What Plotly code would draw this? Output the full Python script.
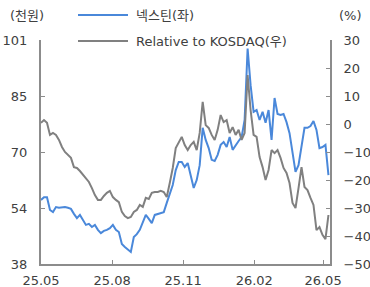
import pandas as pd
import plotly.graph_objects as go

# ---- data ----
nextin = [56.0, 56.8, 56.8, 53.2, 52.6, 54.0, 53.8, 54.0, 54.0, 53.8,
          53.5, 52.1, 50.9, 51.8, 50.4, 49.0, 49.3, 48.4, 49.0, 47.6,
          46.7, 47.3, 47.6, 48.1, 49.0, 47.6, 47.0, 43.6, 42.8, 42.2,
          41.4, 45.6, 46.4, 47.6, 49.8, 51.8, 50.7, 49.5, 51.8, 52.1,
          52.3, 52.6, 55.2, 58.0, 60.2, 64.4, 66.7, 66.7, 65.3, 66.4,
          62.5, 59.4, 61.6, 65.8, 76.3, 72.9, 70.6, 67.3, 67.0, 68.7,
          71.5, 72.3, 70.9, 73.7, 70.1, 71.5, 72.6, 73.7, 78.5, 98.6,
          88.3, 80.8, 81.3, 78.5, 80.8, 77.7, 81.3, 72.9, 84.7, 80.2,
          79.9, 80.2, 77.9, 74.8, 69.2, 63.9, 65.8, 70.6, 76.3, 76.3,
          76.8, 78.2, 75.7, 70.6, 70.9, 71.5, 63.0]

relative = [0.4, 1.4, 0.4, -3.9, -3.2, -3.9, -5.7, -8.2, -10.0, -11.1,
            -12.1, -15.4, -15.7, -16.8, -18.2, -19.6, -20.7, -22.9, -25.4, -27.1,
            -27.1, -25.7, -24.6, -23.9, -26.1, -27.1, -27.9, -31.4, -32.9, -33.6,
            -33.2, -31.4, -30.7, -28.9, -29.6, -26.4, -26.8, -24.6, -24.3, -24.3,
            -23.9, -24.3, -26.1, -21.1, -15.7, -8.6, -6.8, -4.6, -7.5, -9.3,
            -7.5, -6.4, -9.3, -3.2, 7.9, -0.4, -1.4, -3.9, -5.7, -2.1,
            3.2, 0.7, 1.4, -3.2, -1.1, -3.9, -2.1, -5.7, -3.2, 17.5,
            5.0, -3.9, -4.6, -11.8, -15.4, -20.0, -16.4, -9.3, -10.4, -9.3,
            -12.1, -15.7, -17.5, -21.1, -28.2, -30.0, -22.9, -15.4, -22.5, -23.6,
            -26.4, -28.9, -37.9, -36.8, -39.6, -41.1, -32.5]

dates = pd.date_range("2025-05-12", "2026-05-19", periods=len(nextin))

x_tickvals = ["2025-05-12", "2025-08-12", "2025-11-12", "2026-02-12", "2026-05-12"]
x_ticktext = ["25.05", "25.08", "25.11", "26.02", "26.05"]
y1_tickvals = [38, 53.75, 69.5, 85.25, 101]
y1_ticktext = ["38", "54", "70", "85", "101"]
y2_tickvals = [30, 20, 10, 0, -10, -20, -30, -40, -50]

BLUE = "#4a88da"
GREY = "#808080"
AXIS = "#8c8c8c"
TXT = "#404040"
FONT = "DejaVu Sans, Noto Sans CJK KR"

fig = go.Figure()
fig.add_trace(go.Scatter(x=dates, y=relative, mode="lines", yaxis="y2",
                         line=dict(color=GREY, width=2), name="Relative to KOSDAQ(우)",
                         showlegend=False))
fig.add_trace(go.Scatter(x=dates, y=nextin, mode="lines", yaxis="y",
                         line=dict(color=BLUE, width=2), name="넥스틴(좌)",
                         showlegend=False))

axis_common = dict(showgrid=False, zeroline=False, showline=True, linecolor=AXIS,
                   linewidth=2, ticks="inside", ticklen=4, tickcolor=AXIS, tickwidth=1,
                   automargin=False,
                   tickfont=dict(family=FONT, size=13, color=TXT))

fig.update_layout(
    width=370, height=287,
    margin=dict(l=41, r=40, t=40, b=23),
    paper_bgcolor="white", plot_bgcolor="white",
    font=dict(family=FONT, size=13, color=TXT),
    xaxis=dict(type="date", range=["2025-05-12", "2026-05-21"],
               tickvals=x_tickvals, ticktext=x_ticktext, ticklabelstandoff=3,
               **axis_common),
    yaxis=dict(range=[38, 101], tickvals=y1_tickvals, ticktext=y1_ticktext,
               ticklabelstandoff=9, **axis_common),
    yaxis2=dict(range=[-50, 30], tickvals=y2_tickvals, overlaying="y", side="right",
                ticklabelstandoff=9, **axis_common),
    shapes=[
        dict(type="line", xref="paper", yref="paper", x0=37 / 289, x1=87 / 289,
             y0=(264 - 15) / 224, y1=(264 - 15) / 224, line=dict(color=BLUE, width=2)),
        dict(type="line", xref="paper", yref="paper", x0=37 / 289, x1=87 / 289,
             y0=(264 - 41) / 224, y1=(264 - 41) / 224, line=dict(color=GREY, width=2)),
    ],
    annotations=[
        dict(text="(천원)", xref="paper", yref="paper", x=-33 / 289, y=(264 - 15) / 224,
             xanchor="left", yanchor="middle", showarrow=False, font=dict(size=13, color=TXT)),
        dict(text="(%)", xref="paper", yref="paper", x=(364 - 41) / 289, y=(264 - 15) / 224,
             xanchor="right", yanchor="middle", showarrow=False, font=dict(size=13, color=TXT)),
        dict(text="넥스틴(좌)", xref="paper", yref="paper", x=93 / 289, y=(264 - 15) / 224,
             xanchor="left", yanchor="middle", showarrow=False, font=dict(size=13, color=TXT)),
        dict(text="Relative to KOSDAQ(우)", xref="paper", yref="paper", x=93 / 289,
             y=(264 - 41) / 224, xanchor="left", yanchor="middle", showarrow=False,
             font=dict(size=13, color=TXT)),
    ],
)

fig.write_html("out.html", config={"displayModeBar": False},
               post_script="document.body.style.margin='0';document.body.style.overflow='hidden';")
